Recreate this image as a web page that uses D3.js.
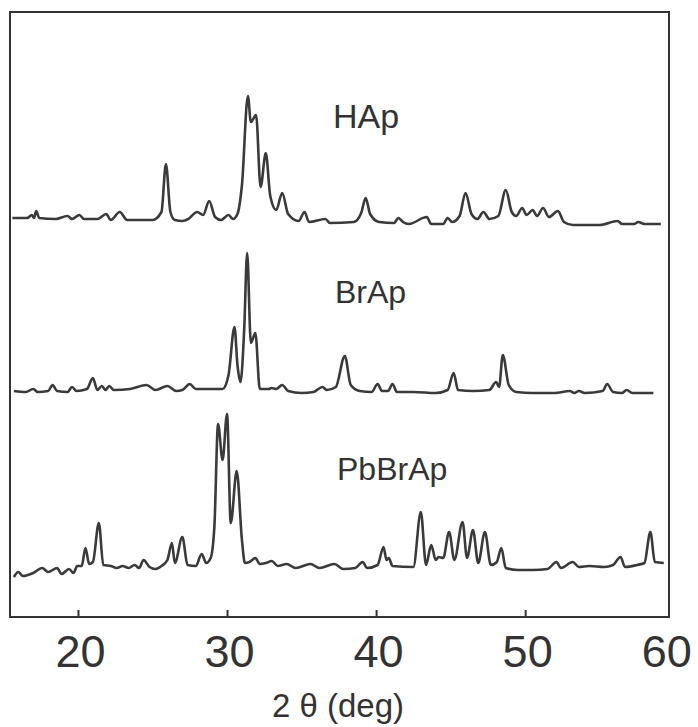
<!DOCTYPE html>
<html>
<head>
<meta charset="utf-8">
<script src="https://cdn.jsdelivr.net/npm/d3@7"></script>
<style>
  body { margin: 0; background: #fff; }
  svg { display: block; }
  text { font-family: "Liberation Sans", Arial, sans-serif; fill: #333; }
</style>
</head>
<body>
<svg id="chart" width="698" height="727"></svg>
<script>
// sample names, top to bottom
const samples = ['HAp', 'BrAp', 'PbBrAp'];
const xTicks = [20, 30, 40, 50, 60];
const xTitle = '2 \u03b8 (deg)';

// [2θ, intensity (arb.)]
const hap = [
  [15.6,12],[16.6,12],[16.9,15],[17.05,12],[17.2,19],[17.4,12],[18.5,11],[19.3,14],[19.6,11],
  [20.1,15],[20.4,11],[21.3,11],[21.9,16],[22.2,10],[22.8,18],[23.3,10],[25.0,10],[25.6,18],
  [25.9,66],[26.2,18],[26.5,10],[27.0,9],[27.4,11],[28.0,18],[28.4,15],[28.8,29],[29.2,13],
  [29.6,10],[30.1,15],[30.4,11],[30.7,16],[31.0,45],[31.4,134],[31.6,108],[31.95,115],
  [32.25,43],[32.6,77],[32.9,34],[33.3,20],[33.7,37],[34.1,16],[34.8,9],[35.2,18],[35.5,8],
  [36.6,11],[36.9,7],[38.5,8],[39.0,17],[39.3,32],[39.6,16],[40.2,8],[41.2,7],[41.5,12],
  [41.8,8],[42.2,6],[43.4,13],[43.7,6],[44.5,6],[44.8,12],[45.1,8],[45.6,14],[46.0,37],
  [46.4,16],[46.8,11],[47.2,18],[47.6,11],[48.2,14],[48.7,40],[49.1,18],[49.4,14],[49.8,22],
  [50.1,15],[50.5,20],[50.8,14],[51.2,22],[51.6,13],[52.2,19],[52.6,8],[53.2,5],[55.0,5],
  [56.2,9],[56.5,6],[57.3,6],[57.6,8],[58.0,6],[59.1,6]
];
const brap = [
  [15.7,7],[16.5,6],[17.0,9],[17.3,6],[18.0,7],[18.3,13],[18.6,7],[19.3,6],[19.6,11],[19.9,7],
  [20.6,9],[21.0,20],[21.3,8],[21.6,12],[21.85,8],[22.1,12],[22.4,8],[23.5,9],[24.6,13],
  [25.2,8],[26.0,12],[26.6,7],[27.0,8],[27.5,14],[27.9,9],[29.7,9],[30.1,23],[30.5,71],
  [30.7,33],[30.9,16],[31.15,68],[31.35,145],[31.6,55],[31.9,65],[32.2,9],[32.8,9],[33.0,10],
  [33.3,9],[33.7,13],[34.1,7],[35.0,5],[35.8,6],[36.4,11],[36.7,8],[37.3,11],[37.9,42],
  [38.3,13],[38.9,7],[39.7,6],[40.1,14],[40.4,7],[40.8,7],[41.1,14],[41.4,6],[42.5,6],
  [44.0,5],[44.8,8],[45.2,25],[45.5,8],[46.5,7],[47.6,8],[48.05,16],[48.25,11],[48.5,43],
  [48.9,13],[49.4,6],[50.5,5],[52.0,5],[53.0,7],[53.3,5],[53.6,7],[54.0,5],[55.2,7],
  [55.5,14],[55.9,6],[56.5,5],[56.8,8],[57.2,5],[58.6,5]
];
const pbbrap = [
  [15.7,5],[16.0,10],[16.3,6],[17.0,9],[17.6,14],[18.0,10],[18.6,14],[18.9,8],[19.4,13],
  [19.7,9],[19.95,16],[20.25,16],[20.5,34],[20.75,18],[21.0,20],[21.4,59],[21.7,17],[22.2,16],
  [22.6,14],[23.0,16],[23.4,14],[23.8,17],[24.1,14],[24.4,22],[24.8,15],[25.2,13],[25.6,16],
  [26.0,22],[26.3,39],[26.5,19],[27.0,45],[27.35,17],[27.9,16],[28.3,28],[28.6,19],[28.9,24],
  [29.15,55],[29.4,158],[29.7,122],[30.0,168],[30.25,59],[30.65,111],[31.0,42],[31.2,19],
  [31.5,20],[31.9,24],[32.2,18],[32.6,19],[33.0,21],[33.4,16],[34.0,18],[34.6,14],[35.6,18],
  [36.2,14],[37.2,18],[37.8,13],[38.6,14],[39.1,20],[39.4,14],[40.1,17],[40.5,35],[40.7,22],
  [40.85,24],[41.1,16],[42.5,15],[43.0,70],[43.35,17],[43.7,37],[44.0,22],[44.2,25],[44.5,24],
  [44.9,50],[45.25,22],[45.8,60],[46.1,24],[46.5,52],[46.85,19],[47.3,50],[47.7,17],[48.1,20],
  [48.4,34],[48.7,14],[49.5,12],[50.5,12],[51.5,13],[52.1,20],[52.4,14],[53.2,20],[53.6,15],
  [54.3,16],[55.3,15],[55.9,17],[56.4,25],[56.7,15],[57.5,17],[58.0,19],[58.4,50],[58.7,20],
  [59.3,19]
];
const seriesData = [hap, brap, pbbrap];

const svg = d3.select('#chart');
const plot = {left: 10, right: 669, top: 12, bottom: 617};

const x = d3.scaleLinear().domain([15.44, 59.65]).range([plot.left, plot.right]);

// each trace sits on its own zero line, same intensity scale for all
const zeroY = [230, 398, 582];
const labelPos = [{x: 333, y: 128}, {x: 335, y: 303}, {x: 337, y: 480}];
const iScale = d3.scaleLinear().domain([0, 170]).range([0, 170]);

// frame
svg.append('rect')
  .attr('x', plot.left).attr('y', plot.top)
  .attr('width', plot.right - plot.left).attr('height', plot.bottom - plot.top)
  .attr('fill', 'none').attr('stroke', '#333').attr('stroke-width', 2);

// bottom axis, ticks point inward
const axis = svg.append('g')
  .attr('transform', `translate(0,${plot.bottom})`)
  .call(d3.axisBottom(x).tickValues(xTicks).tickSizeInner(-7).tickSizeOuter(0));
axis.select('.domain').remove();
axis.selectAll('.tick line').attr('stroke', '#333').attr('stroke-width', 2)
  .attr('display', d => x(d) > plot.right ? 'none' : null);
axis.selectAll('.tick text')
  .attr('y', 50).attr('dy', 0)
  .attr('dx', d => x(d) > plot.right - 5 ? -8 : 2)
  .style('font-size', '45px')
  .style('font-family', '"Liberation Sans", Arial, sans-serif')
  .attr('fill', '#444');

svg.append('text')
  .attr('x', 338).attr('y', 717)
  .attr('text-anchor', 'middle')
  .style('font-size', '33px')
  .attr('fill', '#444')
  .text(xTitle);

const line = d3.line().curve(d3.curveMonotoneX);

seriesData.forEach((data, i) => {
  line.x(d => x(d[0])).y(d => zeroY[i] - iScale(d[1]));
  svg.append('path')
    .datum(data)
    .attr('d', line)
    .attr('fill', 'none')
    .attr('stroke', '#3a3a3a')
    .attr('stroke-width', 2.6)
    .attr('stroke-linejoin', 'round');

  svg.append('text')
    .attr('x', labelPos[i].x).attr('y', labelPos[i].y)
    .style('font-size', i === 0 ? '34px' : '32px')
    .text(samples[i]);
});
</script>
</body>
</html>
